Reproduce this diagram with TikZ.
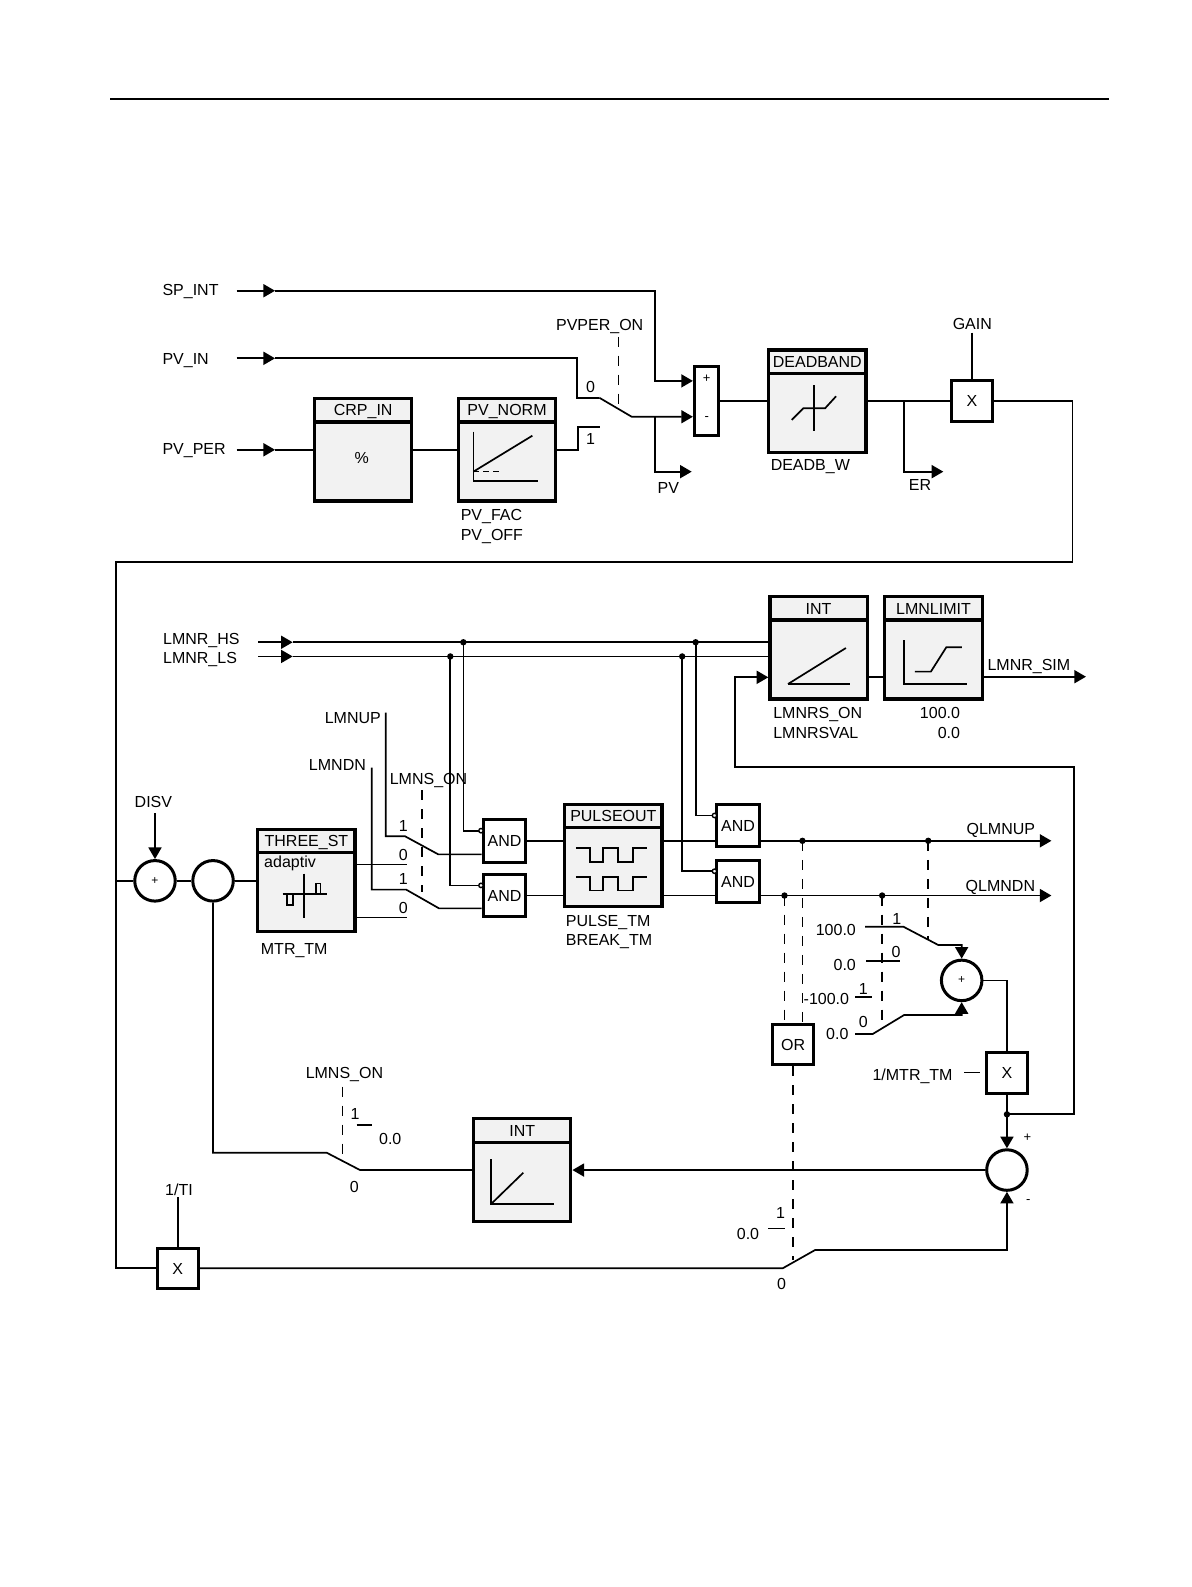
\documentclass[tikz,border=0pt]{standalone}
\usepackage{fontspec}
\setmainfont{Liberation Sans}
\usetikzlibrary{arrows.meta}

\tikzset{
  fblk/.style={draw, line width=1.6pt, fill=gray!10, minimum width=96*0.5065pt, minimum height=101*0.5065pt, inner sep=0pt},
  fhdr/.style={draw, line width=1.6pt, fill=gray!10, minimum width=96*0.5065pt, minimum height=23*0.5065pt, inner sep=0pt, anchor=north, text height=5.7pt, text depth=0pt},
  gate/.style={draw, line width=1.5pt, fill=white, minimum width=42*0.5065pt, minimum height=42*0.5065pt, inner sep=0pt, text height=5.7pt, text depth=0pt},
  sumc/.style={draw, circle, line width=1.5pt, minimum size=40*0.5065pt, inner sep=0pt, font=\fontsize{6}{7}\selectfont},
  lbl/.style={inner sep=0pt, text height=5.7pt, text depth=0pt},
  sml/.style={inner sep=0pt, font=\fontsize{6.5}{7}\selectfont},
  ctl/.style={dash pattern=on 5pt off 4.5pt},
  inv/.style={draw, fill=white, line width=0.7pt}
}

\begin{document}
\begin{tikzpicture}[x=0.5065pt, y=-0.5065pt, line width=0.85pt, >={Triangle[length=5.8pt,width=6.5pt]}, font=\fontsize{8}{9.6}\selectfont]
\useasboundingbox (0,0) rectangle (1175.7,1566.6);

% page rule
\draw (108.6,98) -- (1095,98);

% ---------- setpoint and process value ----------
\node[lbl, anchor=west] (spint) at (159.6,286.3) {SP\_INT};
\node[lbl, anchor=west] (pvin) at (159.6,353.7) {PV\_IN};
\node[lbl, anchor=west] (pvper) at (159.6,442.6) {PV\_PER};

\node[fblk] (crp) at (358.5,444) {};
\node[fhdr] (crph) at (crp.north) {CRP\_IN};
\node[lbl] at (357,451.5) {\%};

\node[fblk] (pvn) at (500.5,444) {};
\node[fhdr] (pvnh) at (pvn.north) {PV\_NORM};
\draw (467.3,426.1) -- (467.3,474.8) -- (531.4,474.8);
\draw (467.3,465.6) -- (525.5,430.1);
\draw[densely dashed, line width=0.6pt] (467.3,465.6) -- (495.9,465.6);
\node[lbl, anchor=west] at (454,508.4) {PV\_FAC};
\node[lbl, anchor=west] at (454,527.5) {PV\_OFF};

\node[draw, line width=1.5pt, minimum width=23.7*0.5065pt, minimum height=68.4*0.5065pt, inner sep=0pt] (sub) at (697.3,396) {};
\node[sml] at (697.6,374) {+};
\node[sml] at (697.6,413.6) {-};

\draw[->] (233.6,287) -- (271.5,287);
\draw[->] (271.5,287) -- (646.6,287) -- (646.6,376) -- (sub.west |- 0,376);
\draw[->] (233.6,353.7) -- (271.5,353.7);
\draw (271.5,353.7) -- (569.3,353.7) -- (569.3,392.6) -- (591.6,392.6);
\draw[->] (233.6,444) -- (271.5,444);
\draw (271.5,444) -- (crp.west);
\draw (crp.east) -- (pvn.west);
\draw (pvn.east) -- (570.3,444) -- (570.3,421.2) -- (592.3,421.2);
\draw[->] (591.6,392.6) -- (623.6,411.4) -- (sub.west |- 0,411.4);
\draw[ctl] (610.4,332.3) -- (610.4,403);
\node[lbl] at (592,320.8) {PVPER\_ON};
\node[lbl] at (583,381.7) {0};
\node[lbl] at (583,432.7) {1};
\draw[->] (646.6,411.4) -- (646.6,465.6) -- (682.8,465.6);
\node[lbl] at (659.7,481.4) {PV};

% ---------- deadband and gain ----------
\node[fblk] (dead) at (806.8,396) {};
\node[fhdr] (deadh) at (dead.north) {DEADBAND};
\draw (803.6,380.5) -- (803.6,425.5);
\draw (781.6,414.5) -- (793.1,403) -- (814.5,403) -- (825.3,391.2);
\node[lbl, anchor=west] at (760,459) {DEADB\_W};
\draw (sub.east) -- (dead.west);

\node[gate, minimum width=40*0.5065pt, minimum height=40*0.5065pt] (xg) at (959.5,396) {X};
\node[lbl] (gain) at (959.8,319.8) {GAIN};
\draw (959.5,328.4) -- (xg.north);
\draw (dead.east) -- (xg.west);
\draw[->] (892.7,396) -- (892.7,465.6) -- (931.2,465.6);
\node[lbl] at (908.2,478.8) {ER};
\draw (xg.east) -- (1058.6,396) -- (1058.6,555) -- (114.5,555) -- (114.5,1252) -- (175.5,1252);

% ---------- position simulation ----------
\node[lbl, anchor=west] at (160.2,630.1) {LMNR\_HS};
\node[lbl, anchor=west] at (160.2,648.9) {LMNR\_LS};

\node[fblk] (inta) at (808,639.5) {};
\node[fhdr] (intah) at (inta.north) {INT};
\draw (777.9,675.2) -- (835,639.7);
\draw (777.9,675.2) -- (839,675.2);
\node[lbl, anchor=west] at (762.5,703.5) {LMNRS\_ON};
\node[lbl, anchor=west] at (762.5,723.3) {LMNRSVAL};

\node[fblk] (lim) at (921.5,639.5) {};
\node[fhdr] (limh) at (lim.north) {LMNLIMIT};
\draw (892.7,631.8) -- (892.7,675.2) -- (954.6,675.2);
\draw (903,663) -- (918.9,663) -- (934.1,639) -- (949.4,639);
\node[lbl, anchor=east] at (948.5,703.5) {100.0};
\node[lbl, anchor=east] at (948.5,723.3) {0.0};
\draw (inta.east |- 0,668) -- (lim.west |- 0,668);
\draw[->] (lim.east |- 0,668) -- (1072,668);
\node[lbl, anchor=west] at (974,656.5) {LMNR\_SIM};

\draw[->] (255,634) -- (288.9,634);
\draw (288.9,634) -- (inta.west |- 0,634);
\draw[->] (255,648) -- (288.9,648);
\draw (288.9,648) -- (inta.west |- 0,648);
\foreach \p in {(457.4,634),(686.7,634),(444.5,648),(673.4,648)}
  \fill \p circle[radius=1.6pt];

% ---------- three-step element ----------
\node[sumc] (add1) at (153,869.5) {+};
\node[sumc] (c2) at (210.3,869.5) {};
\node[lbl] (disv) at (151.4,791.4) {DISV};
\draw[->] (153,802.9) -- (add1.north);
\draw (114.5,869.5) -- (add1.west);
\draw (add1.east) -- (c2.west);

\node[fblk] (thr) at (302.5,869) {};
\node[fhdr] (thrh) at (thr.north) {THREE\_ST};
\node[lbl, anchor=west] at (260,850.6) {adaptiv};
\draw (300.1,862.4) -- (300.1,905.8);
\draw (279,882.8) -- (322.5,882.8);
\draw (312,882.8) -- (312,872) -- (316.5,872) -- (316.5,882.8);
\draw (283,882.8) -- (283,893.4) -- (288.9,893.4) -- (288.9,882.8);
\node[lbl, anchor=west] at (256.7,936.2) {MTR\_TM};
\draw (c2.east) -- (c2.east -| thr.west);
\draw (thr.east |- 0,853.5) -- (401.5,853.5);
\draw (thr.east |- 0,905.8) -- (401.5,905.8);

\node[lbl, anchor=east] at (376.8,708.5) {LMNUP};
\node[lbl, anchor=east] at (362,754.5) {LMNDN};
\node[lbl] at (423,768.3) {LMNS\_ON};
\node[lbl] at (398.1,815.1) {1};
\node[lbl] at (398.1,843.4) {0};
\node[lbl] at (398.1,867.7) {1};
\node[lbl] at (398.1,896) {0};
\draw[ctl] (416.9,779.9) -- (416.9,880.2);

% ---------- gates and pulse output ----------
\node[gate] (and1) at (498,830) {AND};
\node[gate] (and2) at (498,884) {AND};
\node[gate] (and3) at (728.5,815) {AND};
\node[gate] (and4) at (728.5,870) {AND};

\draw (380.8,703.5) -- (380.8,825.5) -- (399.8,825.5) -- (432.7,843.4) -- (and1.west |- 0,843.4);
\draw (367,757.8) -- (367,878.2) -- (401,878.2) -- (433.4,896.7) -- (and2.west |- 0,896.7);
\draw (457.4,634) |- (472.6,820);
\draw (444.5,648) |- (472.6,874);
\draw (686.7,634) |- (703.3,805);
\draw (673.4,648) |- (703.3,860);
\draw[inv] (474.8,820) circle[radius=1.1pt];
\draw[inv] (474.8,874) circle[radius=1.1pt];
\draw[inv] (705.3,805) circle[radius=1.1pt];
\draw[inv] (705.3,860) circle[radius=1.1pt];

\node[fblk] (pul) at (605.5,844.5) {};
\node[fhdr] (pulh) at (pul.north) {PULSEOUT};
\draw (568.5,837.4) -- (582.2,837.4) -- (582.2,850.6) -- (595.4,850.6) -- (595.4,837.4) -- (610.2,837.4) -- (610.2,850.6) -- (625,850.6) -- (625,837.4) -- (638.8,837.4);
\draw (568.5,865.7) -- (582.2,865.7) -- (582.2,878.9) -- (595.4,878.9) -- (595.4,865.7) -- (610.2,865.7) -- (610.2,878.9) -- (625,878.9) -- (625,865.7) -- (638.8,865.7);
\node[lbl, anchor=west] at (557.8,909.2) {PULSE\_TM};
\node[lbl, anchor=west] at (557.8,928) {BREAK\_TM};

\draw (and1.east) -- (pul.west |- and1.east);
\draw (and2.east) -- (pul.west |- and2.east);
\draw (pul.east |- 0,830) -- (and3.west |- 0,830);
\draw (pul.east |- 0,884) -- (and4.west |- 0,884);
\draw[->] (and3.east |- 0,830) -- (1037.9,830);
\draw[->] (and4.east |- 0,884) -- (1037.9,884);
\node[lbl, anchor=east] at (1022.6,817.7) {QLMNUP};
\node[lbl, anchor=east] at (1022.6,874.6) {QLMNDN};
\foreach \p in {(792.1,830),(916.3,830),(774.4,884),(870.8,884)}
  \fill \p circle[radius=1.6pt];

% ---------- motor time tracking ----------
\node[gate, minimum width=41*0.5065pt, minimum height=40*0.5065pt] (orq) at (783,1031) {OR};
\draw[ctl] (774.4,884) -- (774.4,1010.9);
\draw[ctl] (792.1,830) -- (792.1,1010.9);
\draw[ctl] (orq.south) -- (783,1243.8);
\draw[ctl] (916.3,830) -- (916.3,927);
\draw[ctl] (870.8,884) -- (870.8,1015);

\node[sumc] (add3) at (949.3,967.8) {+};
\draw[->] (854,914.8) -- (891.8,914.8) -- (926.3,932.9) -| (add3.north);
\draw (854.9,948.3) -- (888.4,948.3);
\draw (844,984.5) -- (860.5,984.5);
\draw[->] (844,1020.7) -- (861.5,1020.7) -- (892.4,1002) -| (add3.south);
\node[lbl, anchor=east] at (845.7,918) {100.0};
\node[lbl] at (885.2,906.5) {1};
\node[lbl, anchor=east] at (845.7,952.6) {0.0};
\node[lbl] at (884.5,939.5) {0};
\node[lbl, anchor=east] at (839,985.5) {-100.0};
\node[lbl] at (852.2,975.6) {1};
\node[lbl, anchor=east] at (838.4,1020.7) {0.0};
\node[lbl] at (852.2,1008.5) {0};

\node[gate, minimum width=40*0.5065pt, minimum height=40*0.5065pt] (xm) at (994,1059) {X};
\draw (add3.east) -| (xm.north);
\node[lbl, anchor=west] at (860.5,1061.2) {1/MTR\_TM};
\draw (951.6,1058.6) -- (967.4,1058.6);

\node[sumc] (c4) at (994,1155) {};
\node[sml] at (1014.2,1122.7) {+};
\node[sml] at (1015.1,1186.3) {-};
\draw (xm.south) -- (994,1100);
\fill (994,1100) circle[radius=1.6pt];
\draw[->] (994,1100) -- (c4.north);
\draw[->] (994,1100) -- (1060,1100) -- (1060,756.8) -- (725.2,756.8) -- (725.2,668.6) -- (inta.west |- 0,668.6);

\node[fblk] (intb) at (515.5,1155) {};
\node[fhdr] (intbh) at (intb.north) {INT};
\draw (484.7,1144.5) -- (484.7,1188.6) -- (546.9,1188.6);
\draw (484.7,1188.6) -- (516.6,1157.6);
\draw[->] (c4.west) -- (intb.east |- c4.west);

\draw (c2.south) -- (210.3,1137.9) -- (322.5,1137.9) -- (355.4,1155) -- (intb.west);
\draw (352,1110.6) -- (366.9,1110.6);
\draw[ctl] (338,1072.7) -- (338,1145.1);
\node[lbl] at (340,1058.6) {LMNS\_ON};
\node[lbl] at (350.4,1099) {1};
\node[lbl, anchor=west] at (373.4,1124.4) {0.0};
\node[lbl] at (349.8,1171.4) {0};

\node[gate, minimum width=40*0.5065pt, minimum height=40*0.5065pt] (xt) at (175.5,1252) {X};
\node[lbl] (ti) at (176.7,1174.7) {1/TI};
\draw (175.5,1182) -- (xt.north);
\draw[->] (xt.east) -- (772.6,1252) -- (804.5,1234) -| (c4.south);
\draw (758.5,1212.6) -- (775,1212.6);
\node[lbl] at (770.6,1196.8) {1};
\node[lbl, anchor=east] at (750.2,1218.2) {0.0};
\node[lbl] at (771.6,1267.5) {0};
\end{tikzpicture}
\end{document}
